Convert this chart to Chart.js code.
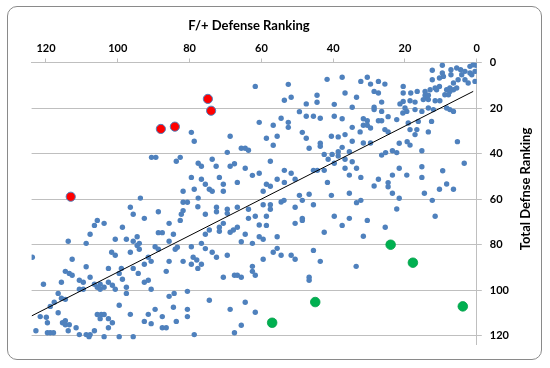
<!DOCTYPE html>
<html>
<head>
<meta charset="utf-8">
<script src="https://cdn.jsdelivr.net/npm/chart.js@4.4.1/dist/chart.umd.min.js"></script>
<style>
  html, body { margin: 0; padding: 0; background: #ffffff; }
  #wrap { position: relative; width: 550px; height: 368px; }
  #frame { position: absolute; left: 7px; top: 6px; width: 535px; height: 354px;
           border: 1px solid #8a8a8a; border-radius: 10px; box-sizing: border-box; pointer-events: none; }
  canvas { position: absolute; left: 0; top: 0; }
</style>
</head>
<body>
<div id="wrap">
  <canvas id="c" width="550" height="368"></canvas>
  <div id="frame"></div>
</div>
<script>
// ---- data (x = F/+ defense rank, y = total defense rank) ----
const xTickValues = [120, 100, 80, 60, 40, 20, 0];
const xTickLabels = ['120', '100', '80', '60', '40', '20', '0'];
const yTickValues = [0, 20, 40, 60, 80, 100, 120];
const yTickLabels = ['0', '20', '40', '60', '80', '100', '120'];
const xTitle = 'F/+ Defense Ranking';
const yTitle = 'Total Defnse Ranking';

const blueUpperLeft = [[79.5,30.7],[78.7,34.6],[90.6,41.7],[89.4,41.7],[83.7,43.4],[82.6,41.7],[77.6,44.3],[79.5,50.5],[76.7,51.3],[81.8,56.6],[78.7,55.7],[77.6,59.6],[93.7,59.6]];

const blueUpperMid = [[61.7,10.5],[52.5,9.6],[41.7,7.4],[53.6,16.6],[51.7,15.3],[47.5,18.2],[44.5,14.4],[44.5,17.5],[39.7,18.4],[49.4,21.6],[47.5,23.6],[45.5,23.6],[43.6,24.5],[39.7,23.6],[54.5,24.5],[60.6,26.3],[52.5,26.3],[52.5,28.5],[56.7,27.6],[68.7,32.4],[58.6,33.3],[55.6,32.4],[56.7,36.4],[48.6,30.7],[47.5,33.3],[46.7,37.7],[43.6,35.5],[43.6,36.8],[40.5,32.4],[65.6,37.7],[64.5,37.7],[63.6,38.6],[69.5,39.5],[73.7,42.5],[76.7,45.6],[72.6,45.6],[68.7,45.6],[67.5,44.5],[64.5,46.5],[57.5,43.4],[62.5,49.6],[60.6,48.7],[53.6,47.4],[51.7,48.7],[50.6,51.3],[55.6,51.3],[53.6,52.7],[58.6,53.5],[57.5,54.4],[45.5,47.4],[44.4,47.4],[42.5,47.4],[41.6,52.7],[42.5,40.4],[41.4,42.5],[40.3,40.4],[39.7,44.3],[75.6,53.5],[71.7,50.5],[70.6,53.5],[66.7,52.7],[74.5,55.7],[73.7,56.6],[70.6,56.6],[59.5,56.6],[49.4,58.4],[46.7,57.9],[40.5,58.4]];

const blueUpperRight = [[37.5,6.5],[32.3,8.3],[30.5,6.5],[29.6,9.5],[27.4,8.3],[25.6,9.5],[28.6,12.7],[27.4,13.4],[36.7,13.4],[33.5,15.3],[26.5,17.4],[34.7,19.7],[28.6,19.7],[28.6,20.7],[26.5,21.5],[37.5,24.7],[31.6,24.7],[30.5,25.6],[27.4,25.6],[26.5,25.6],[24.7,23.8],[31.6,27.6],[30.5,27.6],[29.6,28.8],[34.7,28.5],[32.5,30.5],[36.7,31.7],[38.6,32.7],[25.6,29.5],[24.7,30.5],[34.7,34.6],[29.6,35.4],[31.6,35.4],[37.5,37.3]];

const blueTopCorner = [[9.6,1.2],[12.4,3.4],[9.6,4.6],[9.3,6.1],[10.4,6.8],[12.4,7.6],[7.2,3.2],[7.2,5.4],[5.6,2.4],[4.5,3.2],[3.3,3.9],[1.9,1.7],[1.0,1.0],[0.2,1.2],[1.9,4.6],[1.4,5.4],[4.2,5.4],[5.2,7.6],[3.3,7.6],[2.4,9.0],[0.5,8.3],[0.5,3.9],[6.5,9.0],[7.5,11.2],[6.5,12.0],[5.6,11.2],[8.4,12.0],[7.5,12.7],[10.4,10.5],[11.6,11.2],[11.2,12.0],[13.0,12.0],[8.9,14.2],[7.9,14.2],[20.5,10.5],[20.5,13.4],[18.4,13.4],[16.6,12.7],[14.4,12.7],[14.4,14.4],[13.5,14.4],[13.8,15.6],[14.9,16.3],[13.5,16.3],[11.6,16.8],[10.3,16.8],[20.5,17.1],[21.4,18.2],[18.6,16.8],[17.2,17.4],[20.0,20.0],[19.5,21.5],[20.6,22.2],[17.2,20.7],[15.3,21.5],[13.5,20.0],[12.1,20.7],[8.4,20.0],[7.5,20.7],[6.5,21.5],[22.3,25.1],[19.1,26.6],[16.3,25.9],[12.6,25.9],[18.6,29.5],[16.7,29.5],[17.2,31.7],[13.5,30.5]];

const blueMidRight = [[5.4,34.8],[19.4,34.8],[18.6,36.3],[21.6,35.5],[38.6,39.2],[38.6,41.1],[35.5,39.2],[36.7,42.5],[34.7,43.6],[36.7,46.5],[33.5,46.5],[35.5,49.5],[32.3,50.5],[26.5,40.7],[25.4,39.6],[23.5,38.8],[22.3,39.6],[21.6,46.5],[23.5,49.5],[19.5,49.5],[15.3,38.8],[15.3,45.8],[15.3,50.5],[9.5,47.6],[3.5,44.3],[27.4,51.3],[28.6,54.3],[24.7,52.8],[24.7,54.6],[23.5,57.5],[21.6,59.7],[8.4,53.4],[10.4,55.7],[6.5,55.7],[14.6,57.5],[12.4,60.6],[35.5,57.5],[33.5,61.6],[32.3,60.6],[22.3,64.4]];

const blueLowerLeft = [[81.8,61.4],[80.6,61.4],[82.3,66.7],[81.8,65.1],[77.7,63.4],[96.5,63.6],[95.7,66.7],[92.6,68.5],[88.7,65.6],[85.7,70.7],[82.6,69.4],[105.7,69.4],[106.5,71.6],[103.8,70.7],[107.7,75.5],[98.7,72.4],[108.8,79.5],[113.8,78.6],[100.7,77.7],[97.6,77.7],[95.7,78.6],[94.6,76.6],[94.0,79.5],[88.7,74.8],[87.6,74.8],[84.5,75.5],[85.7,78.6],[123.8,85.6],[112.7,86.5],[101.7,83.4],[100.7,84.7],[96.5,83.4],[94.6,80.4],[94.0,82.1],[89.6,81.0],[88.7,82.1],[84.0,82.1],[83.4,81.2],[79.5,81.0],[91.5,85.6],[90.7,87.4],[85.7,87.4],[81.8,87.4],[79.0,85.6],[78.0,86.8],[77.7,90.5],[79.5,88.7],[114.6,91.8],[113.5,92.7],[112.7,93.5],[115.7,96.6],[120.7,97.5],[108.8,89.8],[110.7,95.7],[109.6,96.6],[107.7,94.4],[110.7,99.7],[109.6,99.7],[106.5,97.5],[105.7,98.8],[104.9,97.5],[104.9,99.7],[103.8,98.8],[102.6,90.5],[102.6,96.6],[101.5,97.9],[100.7,99.7],[99.0,90.5],[98.7,95.3],[99.6,92.7],[97.6,98.8],[97.6,101.5],[95.7,90.5],[94.3,92.7],[92.6,88.7],[92.6,96.6],[91.5,95.7],[90.7,99.7],[86.5,91.8],[85.7,102.8],[84.3,101.5],[84.5,107.6],[80.6,100.6],[80.6,108.5],[116.6,101.5],[115.7,103.6],[114.6,104.1],[117.7,105.4],[118.8,107.2],[116.6,110.0],[119.9,112.0],[119.6,114.4],[122.8,117.9],[119.6,118.8],[118.8,118.8],[117.9,118.8],[121.6,111.7],[115.4,114.4],[114.6,113.5],[114.6,115.3],[113.5,115.3],[113.8,117.9],[111.6,116.6],[110.7,119.6],[108.8,119.6],[108.0,120.5],[107.7,119.6],[106.5,117.9],[105.7,110.8],[104.6,110.8],[103.8,110.8],[104.9,112.6],[102.6,112.6],[101.5,114.4],[102.6,116.6],[103.8,120.5],[99.6,120.5],[95.7,120.5],[99.6,106.7],[96.5,110.7],[92.6,113.8],[91.5,110.7],[90.7,114.8],[89.6,108.5],[87.6,111.7],[87.6,116.6],[86.5,116.6],[83.7,113.8],[80.6,111.7],[78.7,119.6]];

const blueLowerMid = [[75.6,66.7],[72.5,63.6],[72.5,65.6],[69.5,64.5],[69.5,66.3],[66.7,63.6],[63.6,64.5],[59.5,62.5],[57.5,62.5],[57.5,64.5],[61.7,67.6],[63.6,68.5],[58.6,67.6],[60.6,71.4],[58.6,71.6],[54.5,61.3],[53.7,60.6],[50.6,63.6],[48.6,60.6],[45.5,62.5],[39.7,67.6],[50.6,70.7],[48.6,68.5],[48.6,69.4],[42.5,74.6],[75.6,75.5],[74.5,73.6],[71.7,72.4],[71.7,74.2],[70.6,70.7],[68.7,74.6],[67.8,73.6],[66.7,72.4],[64.5,75.5],[60.6,76.6],[59.5,77.7],[55.6,76.6],[65.6,78.8],[62.5,79.5],[76.7,79.5],[75.6,81.8],[73.7,83.4],[72.5,85.6],[69.5,84.7],[76.7,88.7],[56.7,83.4],[55.6,81.7],[54.5,84.7],[51.7,84.7],[50.6,86.5],[59.5,86.5],[45.5,82.6],[43.6,87.4],[62.5,89.6],[62.5,91.8],[61.7,93.5],[70.6,94.4],[67.5,93.5],[66.7,93.5],[65.6,94.4],[46.7,94.4],[46.7,95.7],[74.5,104.5],[68.7,108.5],[64.5,105.4],[61.7,109.8],[65.6,115.5],[67.5,118.8]];

const blueLowerRight = [[37.5,71.6],[35.5,68.5],[30.5,69.4],[31.6,76.4],[25.5,72.4],[11.6,67.6],[33.6,89.6]];

const redPoints = [[88.0,29.2],[84.1,28.2],[113.1,59.0],[74.9,16.0],[74.0,21.2]];
const greenPoints = [[45.0,105.3],[57.0,114.4],[24.0,80.1],[17.8,88.0],[3.9,107.2]];

const trendX = [124, 1];
const trendY = [111.4, 12.7];

// ---- build chart ----
const toXY = arr => arr.map(p => ({ x: p[0], y: p[1] }));
const bluePoints = [].concat(blueUpperLeft, blueUpperMid, blueUpperRight, blueTopCorner,
                             blueMidRight, blueLowerLeft, blueLowerMid, blueLowerRight);

const FONT = 'Lato, "Liberation Sans", Arial, sans-serif';

const titlesPlugin = {
  id: 'axisTitles',
  afterDraw(chart) {
    const ctx = chart.ctx;
    ctx.save();
    ctx.fillStyle = '#000';
    ctx.font = 'bold 13px ' + FONT;
    ctx.textAlign = 'center';
    ctx.textBaseline = 'middle';
    ctx.fillText(xTitle, 249, 26);
    ctx.translate(526, 189);
    ctx.rotate(-Math.PI / 2);
    ctx.fillText(yTitle, 0, 0);
    ctx.restore();
  }
};

new Chart(document.getElementById('c'), {
  type: 'scatter',
  data: {
    datasets: [
      { label: 'Teams', data: toXY(bluePoints), order: 4,
        backgroundColor: '#4F81BD', borderColor: '#4F81BD', borderWidth: 0, pointRadius: 2.7 },
      { label: 'Over', data: toXY(redPoints), order: 2,
        backgroundColor: '#FF0000', borderColor: '#4F81BD', borderWidth: 1, pointRadius: 4.6 },
      { label: 'Under', data: toXY(greenPoints), order: 2,
        backgroundColor: '#00B050', borderColor: '#00A04A', borderWidth: 0.8, pointRadius: 4.8 },
      { type: 'line', label: 'Trend', data: trendX.map((x, i) => ({ x: x, y: trendY[i] })), order: 1,
        showLine: true, borderColor: '#000', borderWidth: 1, pointRadius: 0, fill: false }
    ]
  },
  options: {
    responsive: false,
    animation: false,
    events: [],
    layout: { padding: { left: 31.6, right: 0, top: 0, bottom: 23.4 } },
    plugins: { legend: { display: false }, tooltip: { enabled: false } },
    scales: {
      x: {
        type: 'linear', position: 'top', reverse: true, min: 0, max: 124,
        afterBuildTicks: s => { s.ticks = xTickValues.map(v => ({ value: v })); },
        afterFit: s => { s.height = 62.5; },
        ticks: { callback: (v, i) => xTickLabels[i], color: '#000', padding: 3,
                 font: { family: FONT, weight: 'bold', size: 11 }, maxRotation: 0 },
        grid: { drawOnChartArea: false, drawTicks: true, tickLength: 4, color: '#BFBFBF' },
        border: { display: true, color: '#BFBFBF' }
      },
      y: {
        type: 'linear', position: 'right', reverse: true, min: 0, max: 124,
        afterBuildTicks: s => { s.ticks = yTickValues.map(v => ({ value: v })); },
        afterFit: s => { s.width = 73.2; },
        ticks: { callback: (v, i) => yTickLabels[i], color: '#000', padding: 8,
                 font: { family: FONT, weight: 'bold', size: 11 } },
        grid: { drawOnChartArea: true, drawTicks: true, tickLength: 5, color: '#BFBFBF' },
        border: { display: true, color: '#BFBFBF' }
      }
    }
  },
  plugins: [titlesPlugin]
});
</script>
</body>
</html>
